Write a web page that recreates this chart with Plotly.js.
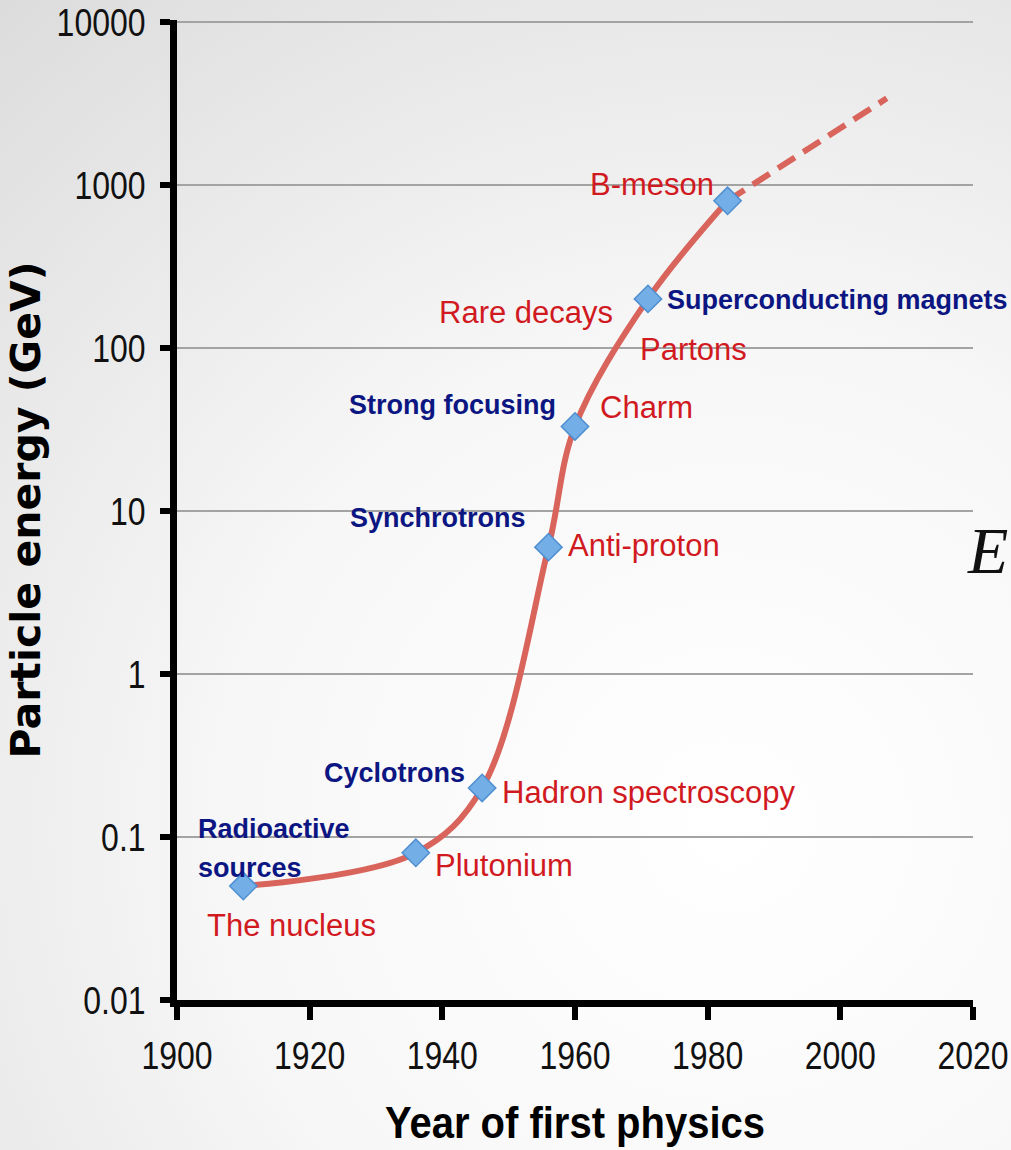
<!DOCTYPE html>
<html>
<head>
<meta charset="utf-8">
<script src="https://cdn.plot.ly/plotly-3.0.1.min.js"></script>
<style>
  html, body { margin: 0; padding: 0; }
  body {
    width: 1011px; height: 1150px; overflow: hidden;
    background: radial-gradient(ellipse 110% 95% at 72% 72%, #ffffff 0%, #f7f7f7 45%, #e6e6e6 80%, #dcdcdc 100%);
  }
  #chart { width: 1011px; height: 1150px; }
</style>
</head>
<body>
<div id="chart"></div>
<script>
// ---- data ----
const years = [1910, 1936, 1946, 1956, 1960, 1971, 1983];
const energies = [0.05, 0.08, 0.2, 6, 33, 200, 800];

const projYears = [1983, 2007];
const projEnergies = [800, 3400];

const xTicks = [1900, 1920, 1940, 1960, 1980, 2000, 2020];
const yTicks = [0.01, 0.1, 1, 10, 100, 1000, 10000];
const yTickText = ["0.01", "0.1", "1", "10", "100", "1000", "10000"];

// discoveries (red) : text, year, energy(log10), anchor
const discText = ["The nucleus", "Plutonium", "Hadron spectroscopy", "Anti-proton", "Charm", "Partons", "Rare decays", "B-meson"];
const discYear = [1904.2, 1938.6, 1948.7, 1958.65, 1963.5, 1969.5, 1966.0, 1981.3];
const discLogE = [-1.541, -1.173, -0.727, 0.786, 1.637, 1.992, 2.218, 3.002];
const discAnchor = ["left", "left", "left", "left", "left", "left", "right", "right"];

// technologies (blue)
const techText = ["Radioactive", "sources", "Cyclotrons", "Synchrotrons", "Strong focusing", "Superconducting magnets"];
const techYear = [1902.9, 1902.9, 1943.7, 1952.9, 1957.4, 1973.6];
const techLogE = [-0.950, -1.193, -0.610, 0.957, 1.649, 2.292];
const techAnchor = ["left", "left", "right", "right", "right", "left"];

const sans = "'Liberation Sans', Arial, Helvetica, sans-serif";

const traces = [
  {
    x: projYears, y: projEnergies, type: "scatter", mode: "lines",
    line: { color: "#d9645c", width: 6, dash: "20px,10px" },
    hoverinfo: "skip", showlegend: false
  },
  {
    x: years, y: energies, type: "scatter", mode: "lines",
    line: { color: "#d9645c", width: 6, shape: "spline", smoothing: 1 },
    hoverinfo: "skip", showlegend: false
  },
  {
    x: years, y: energies, type: "scatter", mode: "markers",
    marker: { symbol: "diamond", size: 21, color: "#73aee6", line: { color: "#4f8fd0", width: 1.5 } },
    hoverinfo: "skip", showlegend: false
  }
];

const annotations = [];
discText.forEach((t, i) => annotations.push({
  x: discYear[i], y: discLogE[i], xref: "x", yref: "y", text: t, showarrow: false,
  xanchor: discAnchor[i], yanchor: "middle",
  font: { family: sans, size: 31, color: "#d11a1f" }
}));
techText.forEach((t, i) => annotations.push({
  x: techYear[i], y: techLogE[i], xref: "x", yref: "y", text: "<b>" + t + "</b>", showarrow: false,
  xanchor: techAnchor[i], yanchor: "middle", align: "left",
  font: { family: sans, size: 27, color: "#0c1682" }
}));
annotations.push({
  x: 0.99, y: 0.459, xref: "paper", yref: "paper", text: "<i>E</i>", showarrow: false,
  xanchor: "left", yanchor: "middle",
  font: { family: "'Liberation Serif', 'Times New Roman', serif", size: 66, color: "#111111" }
});

const layout = {
  width: 1011, height: 1150,
  margin: { l: 177, r: 38, t: 20, b: 150 },
  paper_bgcolor: "rgba(0,0,0,0)",
  plot_bgcolor: "rgba(0,0,0,0)",
  showlegend: false,
  xaxis: {
    range: [1900, 2020], tickvals: xTicks, ticktext: xTicks.map(String),
    showgrid: false, zeroline: false,
    showline: true, linecolor: "#000000", linewidth: 7,
    ticks: "outside", ticklen: 13, tickwidth: 6, tickcolor: "#000000",
    ticklabelstandoff: 8, ticklabeloverflow: "allow",
    tickfont: { family: sans, size: 32, color: "#111111" },
    title: { text: "<b>Year of first physics</b>", standoff: 39, font: { family: sans, size: 40, color: "#000000" } }
  },
  yaxis: {
    type: "log", range: [-2, 4.012], tickvals: yTicks, ticktext: yTickText,
    showgrid: true, gridcolor: "#a3a3a3", gridwidth: 2, zeroline: false,
    showline: true, linecolor: "#000000", linewidth: 7,
    ticks: "outside", ticklen: 10, tickwidth: 6, tickcolor: "#000000",
    ticklabelstandoff: 8, ticklabeloverflow: "allow",
    tickfont: { family: sans, size: 32, color: "#111111" },
    title: { text: "<b>Particle energy (GeV)</b>", standoff: 6, font: { family: "'DejaVu Sans', sans-serif", size: 41, color: "#000000" } }
  },
  annotations: annotations
};

// The reference's axis text is vertically stretched; emulate by scaling text around its own centre.
function stretch(selector, sy) {
  document.querySelectorAll(selector).forEach(el => {
    try {
      const b = el.getBBox();
      const cx = b.x + b.width / 2, cy = b.y + b.height / 2;
      const prev = el.getAttribute("transform") || "";
      el.setAttribute("transform", prev + ` translate(${cx},${cy}) scale(1,${sy}) translate(${-cx},${-cy})`);
    } catch (e) {}
  });
}

Plotly.newPlot("chart", traces, layout, { staticPlot: true, displayModeBar: false }).then(() => {
  stretch("#chart .xtick text", 1.22);
  stretch("#chart .ytick text", 1.22);
  stretch("#chart .g-xtitle text", 1.1);
});
</script>
</body>
</html>
